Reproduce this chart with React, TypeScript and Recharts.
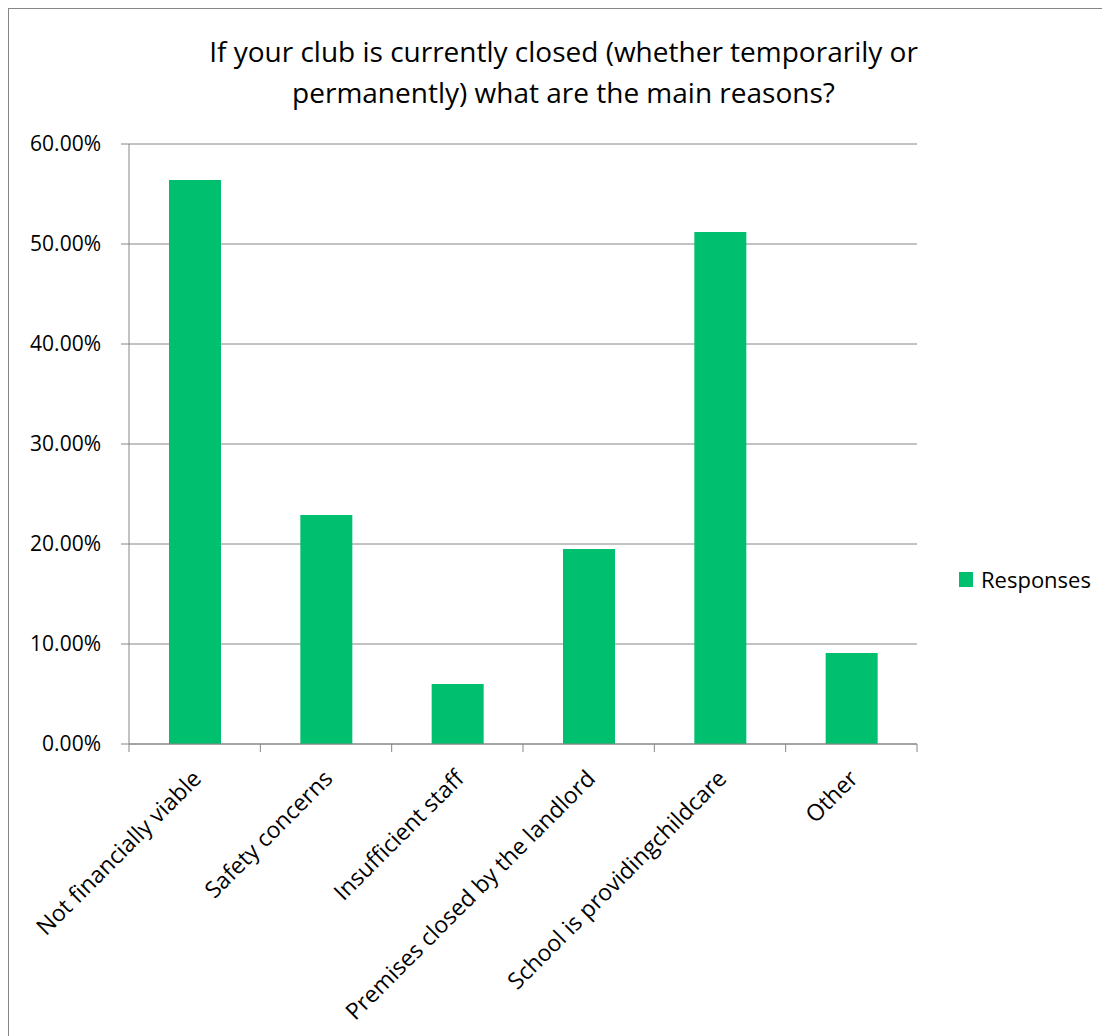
import { BarChart, Bar, XAxis, YAxis, CartesianGrid } from "recharts";

const categories = [
  "Not financially viable",
  "Safety concerns",
  "Insufficient staff",
  "Premises closed by the landlord",
  "School is providingchildcare",
  "Other",
];
const responses = [0.564, 0.229, 0.06, 0.195, 0.512, 0.091];
const yTicks = [0, 0.1, 0.2, 0.3, 0.4, 0.5, 0.6];
const titleLines = [
  "If your club is currently closed (whether temporarily or",
  "permanently) what are the main reasons?",
];
const seriesName = "Responses";

const data = categories.map((name, i) => ({ name, Responses: responses[i] }));

const W = 1101;
const H = 1027;
const FONT = "'Open Sans', sans-serif";
const GRAY = "#868686";
const GREEN = "#00bf6f";
const BAND = 788 / categories.length;

const XTick = (props: any) => {
  const { x, y, payload, index } = props;
  return (
    <g>
      <line x1={x - BAND / 2} x2={x - BAND / 2} y1={y - 8} y2={y} stroke={GRAY} />
      {index === categories.length - 1 && (
        <line x1={x + BAND / 2} x2={x + BAND / 2} y1={y - 8} y2={y} stroke={GRAY} />
      )}
      <text
        transform={`translate(${x + 8},${y + 28}) rotate(-45)`}
        textAnchor="end"
        fontSize={23}
        fontFamily={FONT}
        fill="#000"
      >
        {payload.value}
      </text>
    </g>
  );
};

export default function App() {
  return (
    <div
      style={{
        position: "relative",
        width: W + 1,
        height: H + 1,
        boxSizing: "border-box",
        borderTop: `1px solid ${GRAY}`,
        borderLeft: `1px solid ${GRAY}`,
        background: "#fff",
      }}
    >
      <BarChart width={W} height={H} data={data} margin={{ top: 135, right: 193, left: 0, bottom: 12 }}>
        <CartesianGrid vertical={false} stroke={GRAY} />
        <XAxis
          dataKey="name"
          interval={0}
          height={280}
          tickSize={8}
          tickMargin={0}
          tickLine={false}
          axisLine={{ stroke: GRAY }}
          tick={<XTick />}
        />
        <YAxis
          width={120}
          domain={[0, 0.6]}
          ticks={yTicks}
          tickSize={8}
          tickMargin={20}
          axisLine={{ stroke: GRAY }}
          tickLine={{ stroke: GRAY }}
          tick={{ fill: "#000", fontSize: 21, fontFamily: FONT }}
          tickFormatter={(v: number) => `${(v * 100).toFixed(2)}%`}
        />
        <Bar dataKey="Responses" name={seriesName} fill={GREEN} barSize={52} isAnimationActive={false} />
      </BarChart>
      <div
        style={{
          position: "absolute",
          left: 950,
          top: 555,
          display: "flex",
          alignItems: "center",
          fontFamily: FONT,
          fontSize: 22,
          color: "#000",
        }}
      >
        <span style={{ width: 14, height: 15, background: GREEN, display: "inline-block", marginRight: 8 }} />
        <span>{seriesName}</span>
      </div>
      <svg width={W} height={120} style={{ position: "absolute", left: 0, top: 0, pointerEvents: "none" }}>
        {titleLines.map((t, i) => (
          <text key={i} x={554.5} y={53 + i * 41} textAnchor="middle" fontSize={28} fontFamily={FONT} fill="#000">
            {t}
          </text>
        ))}
      </svg>
    </div>
  );
}
